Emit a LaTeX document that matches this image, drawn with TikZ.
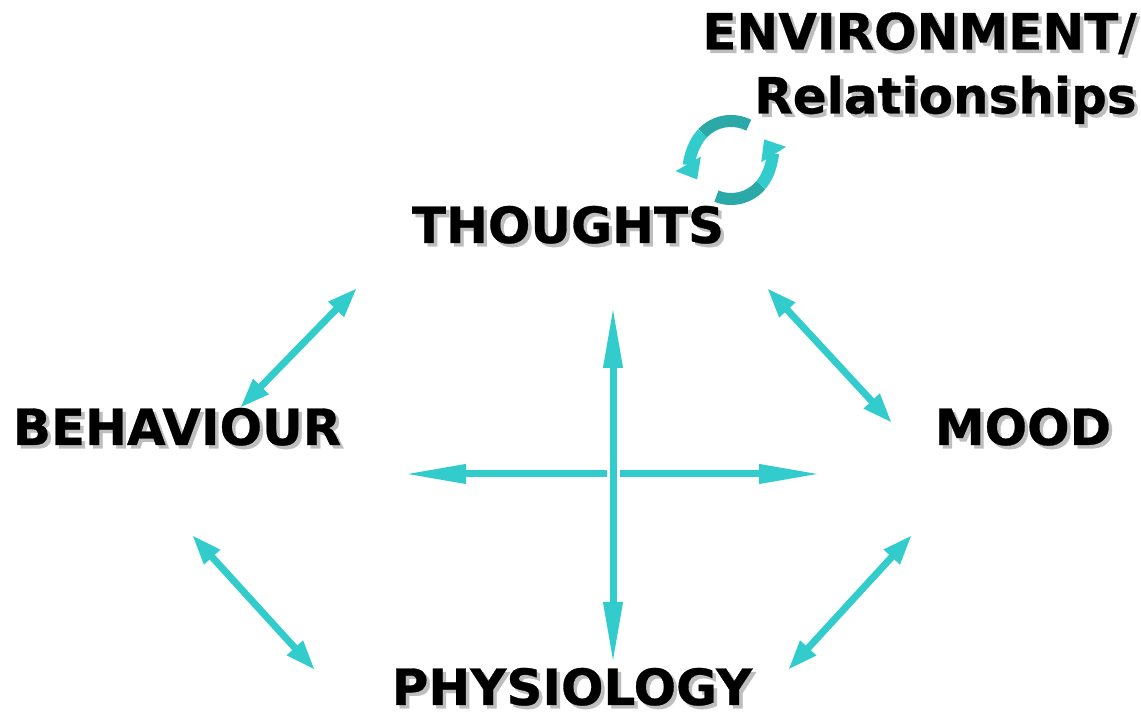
\documentclass[tikz,border=0pt]{standalone}
\usepackage{fontspec}
\setmainfont{DejaVu Sans}[BoldFeatures={FakeBold=0.6}]
\usepackage{xcolor}
\usepackage{tikz}
\usetikzlibrary{arrows.meta}

\definecolor{linkcyan}{RGB}{51,204,204}
\definecolor{cycledark}{RGB}{43,168,168}
\definecolor{shadowgray}{RGB}{190,190,190}

\begin{document}
\begin{tikzpicture}[
    x=0.5pt, y=0.5pt,
    word/.style={font=\fontsize{25}{32}\selectfont\bfseries, inner sep=0pt, anchor=base, text=black},
    wordshadow/.style={word, text=shadowgray},
    link/.style={{Triangle[length=15pt,width=10pt]}-{Triangle[length=15pt,width=10pt]}, line width=3.5pt, draw=linkcyan},
    cross/.style={{Triangle[length=31pt,width=9pt]}-{Triangle[length=31pt,width=9pt]}, line width=3.5pt, draw=linkcyan},
    cyclelight/.style={-{Triangle[length=9pt,width=14pt]}, line width=6pt, draw=linkcyan},
    cycleshade/.style={line width=6pt, draw=cycledark}
]
    \useasboundingbox (0,0) rectangle (1141,715);

    % Labels (grey shadow first)
    \node[wordshadow] (thoughts-sh) at (571.5,468.5) {THOUGHTS};
    \node[word] (thoughts) at (568,472) {THOUGHTS};
    \node[wordshadow] (behaviour-sh) at (180.5,266.5) {BEHAVIOUR};
    \node[word] (behaviour) at (177,270) {BEHAVIOUR};
    \node[wordshadow] (mood-sh) at (1026.5,266.5) {MOOD};
    \node[word] (mood) at (1023,270) {MOOD};
    \node[wordshadow] (physiology-sh) at (575.5,6.5) {PHYSIOLOGY};
    \node[word] (physiology) at (572,10) {PHYSIOLOGY};
    \node[wordshadow, align=right, anchor=north east] (env-sh) at (1140.5,699.5) {ENVIRONMENT/\\Relationships};
    \node[word, align=right, anchor=north east] (env) at (1137,703) {ENVIRONMENT/\\Relationships};

    % Two-way links round the cross
    \draw[link] ([shift={(-211,-45)}]thoughts.base) -- ([shift={(63,37)}]behaviour.base);
    \draw[link] ([shift={(199,-45)}]thoughts.base) -- ([shift={(-131,22)}]mood.base);
    \draw[link] ([shift={(15,-90)}]behaviour.base) -- ([shift={(-257,35)}]physiology.base);
    \draw[link] ([shift={(-111,-90)}]mood.base) -- ([shift={(216,35)}]physiology.base);

    % Central cross
    \draw[cross] ([shift={(227,-29)}]behaviour.base) -- ([shift={(-202,-29)}]mood.base);
    \draw[cross, preaction={draw=white, line width=6.5pt, -}] ([shift={(45,-63)}]thoughts.base) -- ([shift={(41,41)}]physiology.base);

    % Cycle arrows by the environment label
    \coordinate (envcycle) at (731,555);
    \draw[cycleshade] ([shift={(63:39)}]envcycle) arc[start angle=63, end angle=137, radius=39];
    \draw[cyclelight] ([shift={(137:39)}]envcycle) arc[start angle=137, end angle=210, radius=39];
    \draw[cycleshade] ([shift={(248:39)}]envcycle) arc[start angle=248, end angle=320, radius=39];
    \draw[cyclelight] ([shift={(320:39)}]envcycle) arc[start angle=320, end angle=392, radius=39];

\end{tikzpicture}
\end{document}
